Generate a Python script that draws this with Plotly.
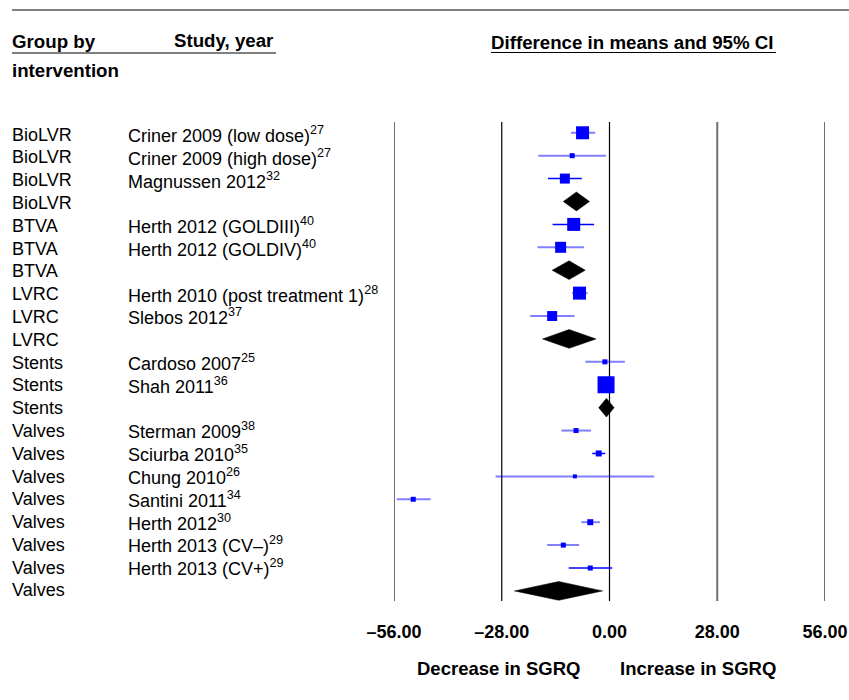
import plotly.graph_objects as go

# ---------------- data ----------------
groups = ["BioLVR", "BioLVR", "BioLVR", "BioLVR",
          "BTVA", "BTVA", "BTVA",
          "LVRC", "LVRC", "LVRC",
          "Stents", "Stents", "Stents",
          "Valves", "Valves", "Valves", "Valves", "Valves", "Valves", "Valves", "Valves"]
studies = ["Criner 2009 (low dose)<sup>27</sup>", "Criner 2009 (high dose)<sup>27</sup>",
           "Magnussen 2012<sup>32</sup>", "",
           "Herth 2012 (GOLDIII)<sup>40</sup>", "Herth 2012 (GOLDIV)<sup>40</sup>", "",
           "Herth 2010 (post treatment 1)<sup>28</sup>", "Slebos 2012<sup>37</sup>", "",
           "Cardoso 2007<sup>25</sup>", "Shah 2011<sup>36</sup>", "",
           "Sterman 2009<sup>38</sup>", "Sciurba 2010<sup>35</sup>", "Chung 2010<sup>26</sup>",
           "Santini 2011<sup>34</sup>", "Herth 2012<sup>30</sup>", "Herth 2013 (CV–)<sup>29</sup>",
           "Herth 2013 (CV+)<sup>29</sup>", ""]
is_summary = [False, False, False, True,
              False, False, True,
              False, False, True,
              False, False, True,
              False, False, False, False, False, False, False, True]
est = [-7.0, -9.7, -11.6, -8.6,
       -9.3, -12.7, -10.5,
       -7.8, -14.9, -10.5,
       -1.2, -0.9, -0.8,
       -8.7, -2.8, -9.0, -51.0, -5.0, -12.0, -5.0, -13.2]
lower = [-10.0, -18.5, -16.0, -12.0,
         -14.8, -18.7, -14.9,
         -9.7, -20.6, -17.4,
         -6.3, -1.5, -2.8,
         -12.5, -4.5, -29.6, -55.3, -7.3, -16.2, -10.6, -24.7]
upper = [-3.7, -0.9, -7.2, -5.2,
         -4.0, -6.6, -6.3,
         -5.7, -9.1, -3.5,
         4.0, -0.3, 1.2,
         -4.8, -1.1, 11.6, -46.5, -2.5, -7.9, 0.7, -1.8]
weight = [13, 5, 10, 0,
          13, 11, 0,
          13, 10, 0,
          5, 17, 0,
          5, 6, 4, 5, 6, 5, 5, 0]
tick_vals = [-56, -28, 0, 28, 56]
tick_text = ["–56.00", "–28.00", "0.00", "28.00", "56.00"]

# ---------------- layout geometry (screen px; body margin removed below) ----------------
W, H = 849, 700
X0, X1, Y0, Y1 = 394, 825, 122, 601  # plot area on screen
L, T, R, B = X0, Y0, W - X1, H - Y1
PW, PH = W - L - R, H - T - B


def px(x):
    return (x - L) / PW


def py(y):
    return (H - B - y) / PH


rows = list(range(len(groups)))
fig = go.Figure()

# confidence intervals (study rows)
solid_rows = {2, 4, 14, 19}
for solid in (False, True):
    xs, ys = [], []
    for i in rows:
        if is_summary[i] or ((i in solid_rows) != solid):
            continue
        xs += [lower[i], upper[i], None]
        ys += [i, i, None]
    fig.add_trace(go.Scatter(
        x=xs, y=ys, mode="lines", hoverinfo="skip", showlegend=False,
        line=dict(color="#0000ff" if solid else "rgba(0,0,255,0.5)", width=1.5 if solid else 2),
    ))

# study squares
si = [i for i in rows if not is_summary[i]]
fig.add_trace(go.Scatter(
    x=[est[i] for i in si], y=si, mode="markers", showlegend=False,
    marker=dict(symbol="square", color="#0000ff", size=[weight[i] for i in si],
                opacity=1, line=dict(width=0)),
    cliponaxis=False,
))

# summary diamonds
hh = 0.41
for i in rows:
    if not is_summary[i]:
        continue
    fig.add_trace(go.Scatter(
        x=[lower[i], est[i], upper[i], est[i], lower[i]],
        y=[i, i - hh, i, i + hh, i],
        mode="lines", fill="toself", fillcolor="black",
        line=dict(color="black", width=0.5), showlegend=False, hoverinfo="skip",
    ))

# vertical reference lines
for v in tick_vals:
    fig.add_shape(type="line", xref="x", yref="paper", x0=v, x1=v, y0=0, y1=1,
                  line=dict(color="black" if v in (-28, 0) else "#707070",
                            width=1.2 if v in (-28, 0) else 2), layer="below")

ann = []
font_row = dict(family="Liberation Sans, Arial, sans-serif", size=18, color="black")
for i in rows:
    ty = 0.995 * i + 0.08
    ann.append(dict(x=px(10), y=ty, xref="paper", yref="y", text=groups[i],
                    showarrow=False, xanchor="left", yanchor="middle", font=font_row))
    if studies[i]:
        ann.append(dict(x=px(126), y=ty, xref="paper", yref="y", text=studies[i],
                        showarrow=False, xanchor="left", yanchor="middle", font=font_row))

hdr = dict(family="Liberation Sans, Arial, sans-serif", size=18.7, color="black", weight="bold")
hdr_items = [
    dict(x=px(10), y=py(41), text="Group by", xanchor="left"),
    dict(x=px(10), y=py(70), text="intervention", xanchor="left"),
    dict(x=px(172), y=py(40), text="Study, year", xanchor="left"),
    dict(x=px(489), y=py(42), text="Difference in means and 95% CI", xanchor="left"),
]
for a in hdr_items:
    a.update(xref="paper", yref="paper", showarrow=False, yanchor="middle", font=hdr)
ann += hdr_items

bot = dict(family="Liberation Sans, Arial, sans-serif", size=18.5, color="black", weight="bold")
ann += [
    dict(x=px(499), y=py(668), text="Decrease in SGRQ", xref="paper", yref="paper",
         showarrow=False, xanchor="center", yanchor="middle", font=bot),
    dict(x=px(698), y=py(668), text="Increase in SGRQ", xref="paper", yref="paper",
         showarrow=False, xanchor="center", yanchor="middle", font=bot),
]

shapes_extra = [
    dict(type="line", xref="paper", yref="paper", x0=px(12), x1=px(849), y0=py(10), y1=py(10),
         line=dict(color="#808080", width=2)),
    dict(type="line", xref="paper", yref="paper", x0=px(12), x1=px(276), y0=py(53), y1=py(53),
         line=dict(color="black", width=1)),
    dict(type="line", xref="paper", yref="paper", x0=px(491), x1=px(776), y0=py(52.5), y1=py(52.5),
         line=dict(color="black", width=1)),
]
for s in shapes_extra:
    fig.add_shape(**s)

fig.update_layout(
    width=W, height=H, margin=dict(l=L, r=R, t=T, b=B, autoexpand=False),
    plot_bgcolor="white", paper_bgcolor="white",
    annotations=ann, hovermode=False,
    xaxis=dict(range=[-56, 56], tickvals=tick_vals, ticktext=tick_text, showgrid=False,
               zeroline=False, showline=False, ticks="", ticklabelstandoff=18,
               ticklabeloverflow="allow", automargin=False,
               tickfont=dict(family="Liberation Sans, Arial, sans-serif", size=18,
                             color="black", weight="bold")),
    yaxis=dict(range=[20.44, -0.47], showgrid=False, zeroline=False, showticklabels=False,
               ticks="", showline=False, automargin=False),
)

fig.write_html("out.html", config={"displayModeBar": False},
               post_script="document.body.style.margin='0';document.body.style.overflow='hidden';")
